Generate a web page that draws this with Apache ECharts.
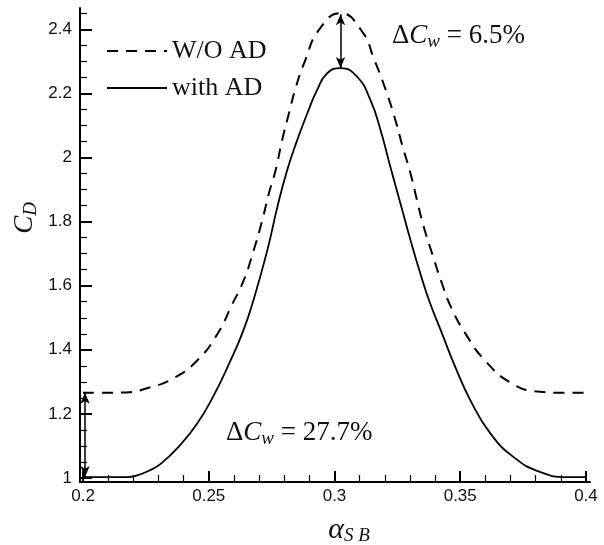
<!DOCTYPE html>
<html>
<head>
<meta charset="utf-8">
<script src="https://cdn.jsdelivr.net/npm/echarts@6/dist/echarts.min.js"></script>
<style>
  html, body { margin: 0; padding: 0; background: #fff; }
  #main { width: 604px; height: 545px; }
</style>
</head>
<body>
<div id="main"></div>
<script>
// W/O AD (dashed)
var alphaNoAD = [0.2, 0.21, 0.217, 0.2254, 0.2357, 0.2452, 0.2535, 0.2592, 0.2638, 0.2675,
    0.2713, 0.2739, 0.2766, 0.2792, 0.2819, 0.2845, 0.2882, 0.2938, 0.3024, 0.311,
    0.3156, 0.3205, 0.3242, 0.3269, 0.3302, 0.3328, 0.3353, 0.339, 0.3426, 0.3465,
    0.3522, 0.3599, 0.3701, 0.3807, 0.3913, 0.4];
var cdNoAD = [1.266, 1.266, 1.267, 1.28, 1.31, 1.365, 1.45, 1.54, 1.615, 1.701,
    1.805, 1.888, 1.961, 2.055, 2.138, 2.216, 2.3, 2.398, 2.45, 2.393,
    2.31, 2.208, 2.117, 2.039, 1.951, 1.867, 1.789, 1.696, 1.61, 1.53,
    1.449, 1.366, 1.297, 1.27, 1.266, 1.266];

// with AD (solid)
var alphaAD = [0.2, 0.21, 0.2175, 0.2215, 0.226, 0.231, 0.2389, 0.2456, 0.252, 0.258,
    0.2635, 0.268, 0.2733, 0.2773, 0.2812, 0.2852, 0.2892, 0.2931, 0.2971, 0.3024,
    0.309, 0.3143, 0.3183, 0.3222, 0.3262, 0.3302, 0.3341, 0.3378, 0.3427, 0.348,
    0.354, 0.3619, 0.3711, 0.3817, 0.3925, 0.4];
var cdAD = [1.003, 1.003, 1.003, 1.008, 1.022, 1.045, 1.105, 1.172, 1.258, 1.355,
    1.455, 1.561, 1.711, 1.846, 1.961, 2.055, 2.138, 2.211, 2.263, 2.279,
    2.252, 2.179, 2.086, 1.971, 1.857, 1.743, 1.639, 1.55, 1.452, 1.347,
    1.243, 1.14, 1.066, 1.019, 1.003, 1.003];

// difference arrows: [alpha, from, to]
var gapBase = [0.2008, 1.003, 1.266];
var gapPeak = [0.3024, 2.279, 2.447];

var xMajor = [0.2, 0.25, 0.3, 0.35, 0.4];
var yMajor = [1, 1.2, 1.4, 1.6, 1.8, 2, 2.2, 2.4];

var X_MIN = 0.1988, X_MAX = 0.4016;
var Y_MIN = 0.9875, Y_MAX = 2.4665;

var serif = 'Liberation Serif';
var sans = 'Liberation Sans';

var chartDom = document.getElementById('main');
var myChart = echarts.init(chartDom);

function pairs(xs, ys) {
    return xs.map(function (x, i) { return [x, ys[i]]; });
}

var mathRich = {
    u: { fontFamily: serif, fontSize: 27, lineHeight: 30, verticalAlign: 'middle' },
    i: { fontFamily: serif, fontStyle: 'italic', fontSize: 27, lineHeight: 30, verticalAlign: 'middle' },
    a: { fontFamily: serif, fontStyle: 'italic', fontSize: 30, lineHeight: 30, verticalAlign: 'middle' },
    s: { fontFamily: serif, fontStyle: 'italic', fontSize: 19, lineHeight: 20, verticalAlign: 'bottom' }
};

// major ticks/labels fixed by customValues, minor ticks come from the nice interval
function axis(min, max, major, splitNumber, minorSplit, tickLen, labelMargin) {
    return {
        type: 'value',
        min: min,
        max: max,
        splitNumber: splitNumber,
        splitLine: { show: false },
        axisLine: { show: true, onZero: false, lineStyle: { color: '#000', width: 2 } },
        axisTick: { show: true, inside: true, length: tickLen, customValues: major,
            lineStyle: { color: '#000', width: 2 } },
        minorTick: { show: true, splitNumber: minorSplit, length: 7,
            lineStyle: { color: '#000', width: 1.2 } },
        minorSplitLine: { show: false },
        axisLabel: { color: '#111', fontFamily: sans, fontSize: 17, margin: labelMargin, customValues: major }
    };
}

var option = {
    animation: false,
    backgroundColor: '#fff',
    grid: { left: 80, right: 14, top: 8, bottom: 63, outerBoundsMode: 'none' },
    legend: {
        orient: 'vertical',
        left: 106,
        top: 37,
        padding: 0,
        itemWidth: 60,
        itemHeight: 14,
        itemGap: 9,
        itemStyle: { opacity: 0 },
        textStyle: { fontFamily: serif, fontSize: 26, color: '#111', lineHeight: 28 },
        data: ['W/O AD', 'with AD']
    },
    xAxis: axis(X_MIN, X_MAX, xMajor, 4, 5, 11, 6),
    yAxis: axis(Y_MIN, Y_MAX, yMajor, 7, 4, 12, 8),
    series: [
        {
            name: 'W/O AD',
            type: 'line',
            data: pairs(alphaNoAD, cdNoAD),
            symbol: 'none',
            smooth: 0.5,
            lineStyle: { color: '#000', width: 2, type: [11, 8] },
            itemStyle: { color: '#000' }
        },
        {
            name: 'with AD',
            type: 'line',
            data: pairs(alphaAD, cdAD),
            symbol: 'none',
            smooth: 0.5,
            lineStyle: { color: '#000', width: 1.8, type: 'solid' },
            itemStyle: { color: '#000' },
            markLine: {
                silent: true,
                symbol: ['arrow', 'arrow'],
                symbolSize: [7, 11],
                label: { show: false },
                lineStyle: { color: '#000', width: 1.5, type: 'solid' },
                data: [
                    [{ coord: [gapBase[0], gapBase[1]] }, { coord: [gapBase[0], gapBase[2]] }],
                    [{ coord: [gapPeak[0], gapPeak[1]] }, { coord: [gapPeak[0], gapPeak[2]] }]
                ]
            }
        }
    ],
    graphic: [
        {
            type: 'text', x: 392, y: 36,
            style: { text: '{u|Δ}{i|C}{s|w}{u| = 6.5%}', rich: mathRich, fill: '#111', verticalAlign: 'middle' }
        },
        {
            type: 'text', x: 226, y: 433,
            style: { text: '{u|Δ}{i|C}{s|w}{u| = 27.7%}', rich: mathRich, fill: '#111', verticalAlign: 'middle' }
        },
        {
            type: 'text', x: 25, y: 218, rotation: Math.PI / 2,
            style: { text: '{i|C}{s|D}', rich: mathRich, fill: '#111', align: 'center', verticalAlign: 'middle' }
        },
        {
            type: 'text', x: 349, y: 530,
            style: { text: '{a|α}{s|S B}', rich: mathRich, fill: '#111', align: 'center', verticalAlign: 'middle' }
        }
    ]
};

myChart.setOption(option);
</script>
</body>
</html>
